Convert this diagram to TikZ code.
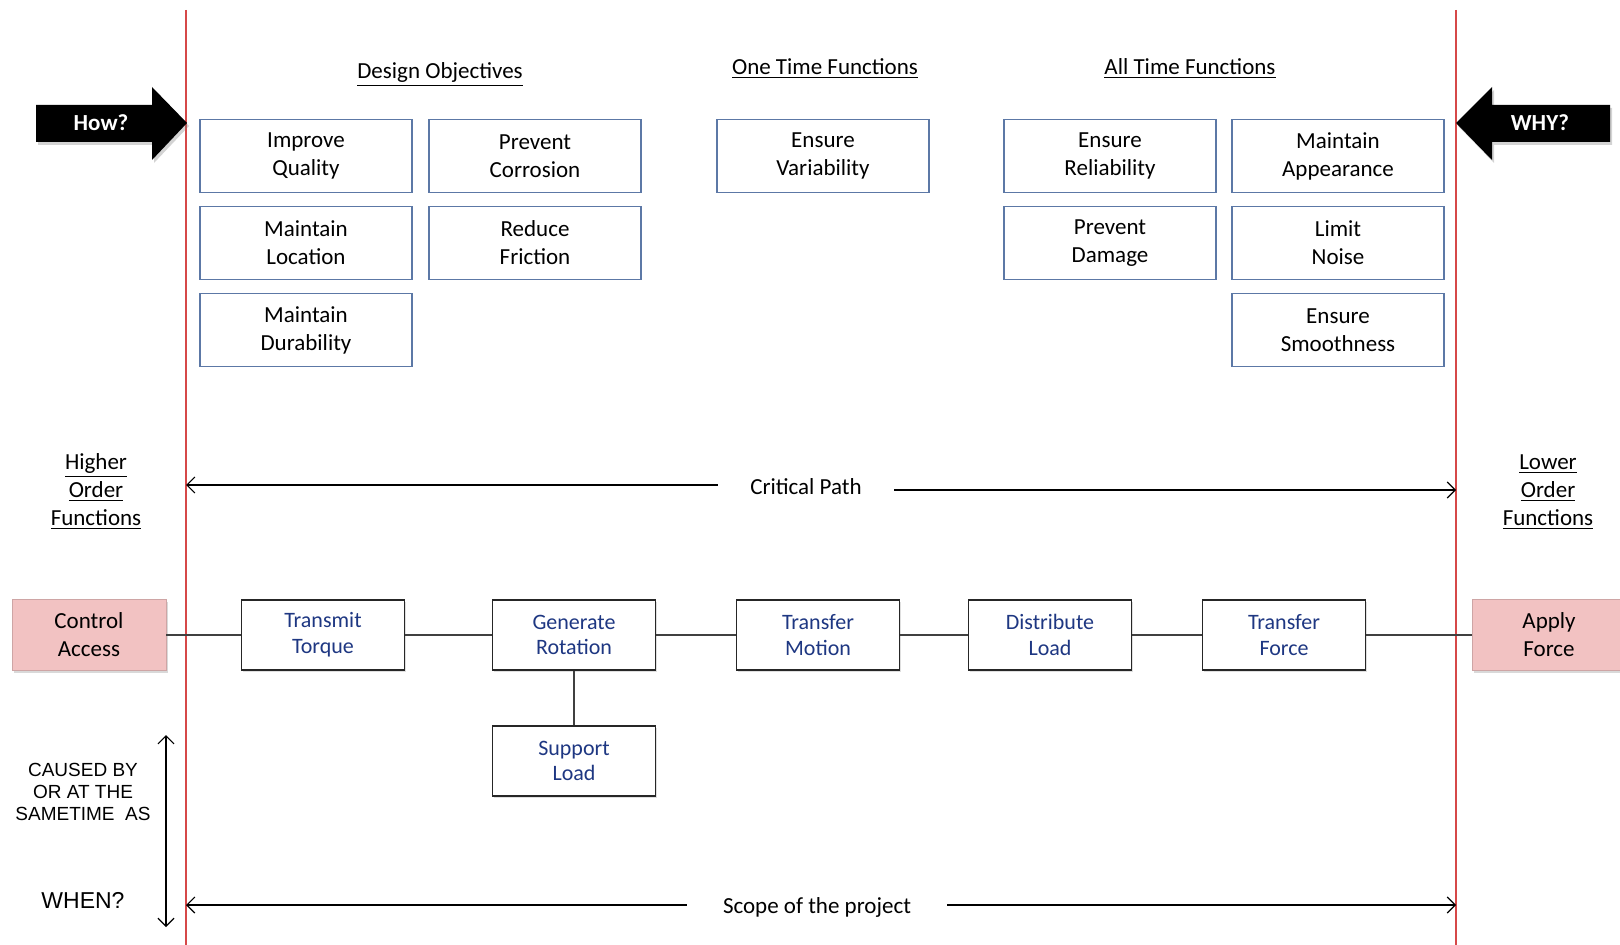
\documentclass[tikz,border=0pt]{standalone}
\usepackage{fontspec}
\setmainfont{Carlito}
\newfontfamily\arialfont{Liberation Sans}
\usetikzlibrary{arrows.meta,shadows}
\definecolor{redline}{RGB}{214,72,72}
\definecolor{objblue}{RGB}{92,120,166}
\definecolor{fnblue}{RGB}{30,55,130}
\definecolor{pinkbox}{RGB}{242,194,194}
\begin{document}
\begin{tikzpicture}[x=0.5pt, y=-0.5pt, >={Straight Barb[length=4pt,width=8pt]},
	objbox/.style={draw=objblue, line width=0.7pt, minimum width=106pt, minimum height=36.5pt, align=center, font=\fontsize{11.5}{14}\selectfont},
	fnbox/.style={draw=black!85, fill=white, line width=0.8pt, minimum width=81.5pt, minimum height=35pt, align=center, text=fnblue, font=\fontsize{11}{12.9}\selectfont, drop shadow={shadow xshift=0.8pt, shadow yshift=-0.8pt, opacity=0.25}},
	endbox/.style={fill=pinkbox, draw=pinkbox!85!black, line width=0.4pt, minimum width=77pt, minimum height=35.5pt, align=center, font=\fontsize{11.5}{14}\selectfont, drop shadow={shadow xshift=1pt, shadow yshift=-1.2pt, opacity=0.3}},
	heading/.style={font=\fontsize{11.5}{14}\selectfont, align=center},
	link/.style={draw=black!75, line width=0.6pt}]
	\useasboundingbox (0,0) rectangle (1620,945);
	% scope limits
	\draw[redline, line width=0.6pt] (186,10) -- (186,945);
	\draw[redline, line width=0.6pt] (1456,10) -- (1456,945);
	% how / why arrows
	\fill[black, drop shadow={shadow xshift=1pt, shadow yshift=-1.5pt, opacity=0.35}] (36,105) -- (152,105) -- (152,87) -- (187,123) -- (152,160) -- (152,142) -- (36,142) -- cycle;
	\fill[black, drop shadow={shadow xshift=1pt, shadow yshift=-1.5pt, opacity=0.35}] (1610,105) -- (1492,105) -- (1492,87) -- (1456,123) -- (1492,160) -- (1492,142) -- (1610,142) -- cycle;
	\node[text=white, font=\bfseries\fontsize{11.5}{14}\selectfont] (how) at (101,123) {How?};
	\node[text=white, font=\bfseries\fontsize{11.5}{14}\selectfont] (why) at (1540,123) {WHY?};
	% headings
	\node[heading] (design) at (440,75) {\underline{Design Objectives}};
	\node[heading] (onetime) at (825,69) {\underline{One Time Functions}};
	\node[heading] (alltime) at (1190,69) {\underline{All Time Functions}};
	\foreach \nm/\x/\y/\txt in {iq/306/156/{Improve\\Quality}, pc/535/156/{Prevent\\Corrosion}, ml/306/243/{Maintain\\Location}, rf/535/243/{Reduce\\Friction}, md/306/330/{Maintain\\Durability}, ev/823/156/{Ensure\\Variability}, er/1110/156/{Ensure\\Reliability}, ma/1338/156/{Maintain\\Appearance}, pd/1110/243/{Prevent\\Damage}, ln/1338/243/{Limit\\Noise}, es/1338/330/{Ensure\\Smoothness}}
		{\node[objbox] (\nm) at (\x,\y) {\txt};}
	\node[heading] (higher) at (96,492) {\underline{Higher}\\\underline{Order}\\\underline{Functions}};
	\node[heading] (lower) at (1548,492) {\underline{Lower}\\\underline{Order}\\\underline{Functions}};
	% critical path
	\node[heading, inner xsep=16pt] (crit) at (806,487) {Critical Path};
	\coordinate (cpL) at (186,485);
	\coordinate (cpR) at (1456,490);
	\draw[->, line width=0.6pt] (crit.west |- cpL) -- (cpL);
	\draw[->, line width=0.6pt] (crit.east |- cpR) -- (cpR);
	% function chain
	\node[endbox] (ca) at (89,635) {Control\\Access};
	\node[endbox] (af) at (1549,635) {Apply\\Force};
	\foreach \nm/\x/\txt in {tt/323/{Transmit\\Torque}, gr/574/{Generate\\Rotation}, tm/818/{Transfer\\Motion}, dl/1050/{Distribute\\Load}, tf/1284/{Transfer\\Force}}
		{\node[fnbox] (\nm) at (\x,635) {\txt};}
	\node[fnbox] (sl) at (574,761) {Support\\Load};
	\draw[link] (ca) -- (tt) -- (gr) -- (tm) -- (dl) -- (tf) -- (af);
	\draw[link] (gr) -- (sl);
	% when
	\node[font=\arialfont\fontsize{9.5}{11}\selectfont, align=center] (caused) at (83,792) {CAUSED BY\\OR AT THE\\SAMETIME\ \ AS};
	\node[font=\arialfont\fontsize{11.5}{14}\selectfont] (when) at (83,900) {WHEN?};
	\coordinate (wt) at (166,735);
	\coordinate (wb) at (166,927);
	\draw[<->, line width=0.6pt] (wt) -- (wb);
	% scope of the project
	\node[heading, inner xsep=18pt] (scope) at (817,907) {Scope of the project};
	\coordinate (spL) at (186,905);
	\coordinate (spR) at (1456,905);
	\draw[->, line width=0.6pt] (scope.west |- spL) -- (spL);
	\draw[->, line width=0.6pt] (scope.east |- spR) -- (spR);
\end{tikzpicture}
\end{document}
